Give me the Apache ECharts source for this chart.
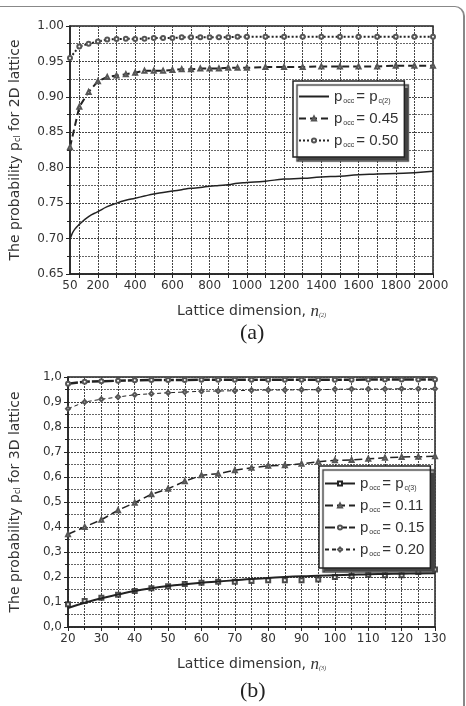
<!DOCTYPE html>
<html lang="en">
<head>
    <meta http-equiv="Content-Type" content="text/html; charset=utf-8"/>
    <title>Lattice probability</title>
    <script src="https://cdn.jsdelivr.net/npm/echarts@6/dist/echarts.min.js"></script>
    <style type="text/css">
        html, body { margin:0; height:100%; background:#fff; }
        #wrap { position:relative; width:466px; height:706px; overflow:hidden; }
        #frame { position:absolute; left:-10px; top:6px; width:473px; height:720px;
                 border-top:1px solid #888; border-right:2px solid #888; border-top-right-radius:10px; }
        #main_1 { position:absolute; left:0; top:0; width:466px; height:706px; }
    </style>
</head>
<body>
<div id="wrap">
    <div id="frame"></div>
    <div id="main_1"></div>
</div>
<script>
    // ---- (a) 2D lattice ----
    var nA_curve = [50, 60, 75, 100, 150, 200, 250, 300, 350, 400, 450, 500, 550, 600, 650, 700, 750, 800, 850, 900, 950,
                    1000, 1100, 1200, 1300, 1400, 1500, 1600, 1700, 1800, 1900, 2000];
    var pc2 = [0.699, 0.706, 0.713, 0.720, 0.731, 0.738, 0.745, 0.750, 0.754, 0.757, 0.760, 0.763, 0.765, 0.767, 0.769, 0.771, 0.772, 0.774, 0.775, 0.776, 0.778,
               0.779, 0.781, 0.784, 0.785, 0.787, 0.788, 0.790, 0.791, 0.792, 0.793, 0.795];
    var nA = [50, 100, 150, 200, 250, 300, 350, 400, 450, 500, 550, 600, 650, 700, 750, 800, 850, 900, 950,
              1000, 1100, 1200, 1300, 1400, 1500, 1600, 1700, 1800, 1900, 2000];
    var p045 = [0.829, 0.886, 0.907, 0.922, 0.928, 0.930, 0.932, 0.934, 0.937, 0.937, 0.937, 0.938, 0.939, 0.939, 0.940, 0.940, 0.940, 0.941, 0.941,
                0.941, 0.942, 0.942, 0.942, 0.943, 0.943, 0.943, 0.943, 0.944, 0.944, 0.944];
    var p050 = [0.955, 0.971, 0.975, 0.978, 0.981, 0.9815, 0.982, 0.9817, 0.982, 0.983, 0.983, 0.983, 0.984, 0.984, 0.984, 0.984, 0.984, 0.984, 0.985,
                0.985, 0.985, 0.985, 0.985, 0.985, 0.985, 0.985, 0.985, 0.985, 0.985, 0.985];
    var tickA = [100, 200, 300, 400, 500, 600, 700, 800, 900, 1000, 1100, 1200, 1300, 1400, 1500, 1600, 1700, 1800, 1900, 2000];
    var labelA = [50, 200, 400, 600, 800, 1000, 1200, 1400, 1600, 1800, 2000];

    // ---- (b) 3D lattice ----
    var nB = [20, 25, 30, 35, 40, 45, 50, 55, 60, 65, 70, 75, 80, 85, 90, 95, 100, 105, 110, 115, 120, 125, 130];
    var pc3_fit = [0.076, 0.097, 0.115, 0.130, 0.144, 0.155, 0.164, 0.171, 0.177, 0.182, 0.187, 0.192, 0.196, 0.200, 0.203, 0.205, 0.207, 0.209, 0.211, 0.212, 0.213, 0.214, 0.215];
    var pc3_pts = [0.091, 0.104, 0.117, 0.129, 0.144, 0.155, 0.163, 0.172, 0.177, 0.181, 0.181, 0.184, 0.187, 0.187, 0.187, 0.190, 0.200, 0.204, 0.209, 0.207, 0.207, 0.220, 0.230];
    var p011 = [0.371, 0.400, 0.429, 0.467, 0.497, 0.531, 0.553, 0.583, 0.607, 0.613, 0.627, 0.637, 0.645, 0.647, 0.653, 0.661, 0.667, 0.668, 0.673, 0.677, 0.680, 0.681, 0.683];
    var p015 = [0.973, 0.981, 0.983, 0.985, 0.987, 0.988, 0.988, 0.988, 0.989, 0.989, 0.989, 0.989, 0.989, 0.989, 0.989, 0.989, 0.989, 0.989, 0.990, 0.990, 0.990, 0.990, 0.990];
    var p020 = [0.873, 0.900, 0.911, 0.920, 0.929, 0.933, 0.937, 0.940, 0.943, 0.944, 0.945, 0.947, 0.948, 0.948, 0.949, 0.949, 0.951, 0.952, 0.952, 0.952, 0.953, 0.953, 0.953];

    function pairs(xs, ys) {
        var out = [];
        for (var i = 0; i < xs.length; i++) out.push([xs[i], ys[i]]);
        return out;
    }

    var ink = '#222';
    var txt = '#333';
    var gridCol = '#444';
    var font = 'DejaVu Sans';
    var lineIcon = 'path://M0,0 L30,0 L30,2 L0,2 Z';

    var subRich = {
        a: {fontFamily: 'Liberation Sans', fontSize: 15, color: txt},
        s: {fontFamily: 'Liberation Sans', fontSize: 7, color: txt, padding: [10, 2, 0, 1]}
    };

    function yAxisOpt(idx, min, max, step, fmt, name, gap) {
        return {
            type: 'value', gridIndex: idx, min: min, max: max, interval: step,
            name: name, nameLocation: 'middle', nameGap: gap,
            nameTextStyle: {fontFamily: font, fontSize: 14, color: txt,
                rich: {s: {fontFamily: font, fontSize: 8, color: txt, padding: [6, 0, 0, 0]}}},
            axisLine: {show: true, lineStyle: {color: ink, width: 1.5}},
            axisTick: {show: true, inside: false, length: 4, lineStyle: {color: ink}},
            minorTick: {show: true, splitNumber: 2, length: 3, lineStyle: {color: ink}},
            axisLabel: {fontFamily: font, fontSize: 12, color: txt, margin: 6, formatter: fmt},
            splitLine: {show: true, lineStyle: {color: gridCol, type: [2, 1], width: 1}},
            minorSplitLine: {show: true, lineStyle: {color: '#666', type: [2, 1], width: 1}}
        };
    }

    var myChart = echarts.init(document.getElementById('main_1'));

    var option = {
        animation: false,
        backgroundColor: 'transparent',
        grid: [
            {left: 70, right: 33, top: 26, height: 248, show: true, borderColor: ink, borderWidth: 1.5},
            {left: 68, right: 31, top: 377, height: 250, show: true, borderColor: ink, borderWidth: 1.5}
        ],
        xAxis: [
            {
                type: 'value', gridIndex: 0, min: 50, max: 2000,
                name: 'Lattice dimension, {n|n}{s|(2)}', nameLocation: 'middle', nameGap: 29,
                nameTextStyle: {fontFamily: font, fontSize: 14, color: txt,
                    rich: {n: {fontFamily: 'Liberation Serif', fontStyle: 'italic', fontSize: 17, color: txt},
                           s: {fontFamily: 'Liberation Serif', fontStyle: 'italic', fontSize: 6, color: txt, padding: [8, 0, 0, 0]}}},
                axisLine: {show: true, lineStyle: {color: ink, width: 1.5}},
                axisTick: {show: true, length: 4, lineStyle: {color: ink}, customValues: tickA},
                axisLabel: {fontFamily: font, fontSize: 12, color: txt, margin: 6, customValues: labelA,
                    formatter: function (v) { return String(v); }},
                splitLine: {show: true, lineStyle: {color: gridCol, type: [2, 1], width: 1}}
            },
            {
                type: 'value', gridIndex: 1, min: 20, max: 130, interval: 10,
                name: 'Lattice dimension, {n|n}{s|(3)}', nameLocation: 'middle', nameGap: 29,
                nameTextStyle: {fontFamily: font, fontSize: 14, color: txt,
                    rich: {n: {fontFamily: 'Liberation Serif', fontStyle: 'italic', fontSize: 17, color: txt},
                           s: {fontFamily: 'Liberation Serif', fontStyle: 'italic', fontSize: 6, color: txt, padding: [8, 0, 0, 0]}}},
                axisLine: {show: true, lineStyle: {color: ink, width: 1.5}},
                axisTick: {show: true, length: 4, lineStyle: {color: ink}},
                minorTick: {show: true, splitNumber: 2, length: 3, lineStyle: {color: ink}},
                axisLabel: {fontFamily: font, fontSize: 12, color: txt, margin: 6},
                splitLine: {show: true, lineStyle: {color: gridCol, type: [2, 1], width: 1}},
                minorSplitLine: {show: true, lineStyle: {color: gridCol, type: [2, 1], width: 1}}
            }
        ],
        yAxis: [
            yAxisOpt(0, 0.65, 1.0, 0.05, function (v) { return v.toFixed(2); },
                'The probability p{s|cl} for 2D lattice', 48),
            yAxisOpt(1, 0, 1.0, 0.1, function (v) { return v.toFixed(1).replace('.', ','); },
                'The probability p{s|cl} for 3D lattice', 46)
        ],
        legend: [
            {
                orient: 'vertical', left: 293, top: 81,
                padding: [8, 6, 8, 5], itemGap: 6, itemWidth: 30, itemHeight: 5,
                backgroundColor: '#fff', borderColor: ink, borderWidth: 1.5,
                shadowColor: '#444', shadowBlur: 1, shadowOffsetX: 4, shadowOffsetY: 4,
                data: [{name: 'pc2', icon: lineIcon}, 'a045', 'a050'],
                formatter: function (name) {
                    return {
                        pc2: '{a|p}{s|occ}{a|= p}{s|c(2)}',
                        a045: '{a|p}{s|occ}{a|= 0.45}',
                        a050: '{a|p}{s|occ}{a|= 0.50}'
                    }[name];
                },
                textStyle: {rich: subRich}
            },
            {
                orient: 'vertical', left: 319, top: 466,
                padding: [10, 6, 10, 5], itemGap: 6, itemWidth: 30, itemHeight: 5,
                backgroundColor: '#fff', borderColor: ink, borderWidth: 1.5,
                shadowColor: '#444', shadowBlur: 1, shadowOffsetX: 4, shadowOffsetY: 4,
                data: ['pc3', 'b011', 'b015', 'b020'],
                formatter: function (name) {
                    return {
                        pc3: '{a|p}{s|occ}{a|= p}{s|c(3)}',
                        b011: '{a|p}{s|occ}{a|= 0.11}',
                        b015: '{a|p}{s|occ}{a|= 0.15}',
                        b020: '{a|p}{s|occ}{a|= 0.20}'
                    }[name];
                },
                textStyle: {rich: subRich}
            }
        ],
        graphic: [
            {type: 'text', left: 240, top: 322, style: {text: '(a)', font: '22px "Liberation Serif"', fill: '#222'}},
            {type: 'text', left: 240, top: 680, style: {text: '(b)', font: '22px "Liberation Serif"', fill: '#222'}}
        ],
        series: [
            {
                name: 'pc2', type: 'line', xAxisIndex: 0, yAxisIndex: 0, smooth: true,
                symbol: 'none', data: pairs(nA_curve, pc2),
                lineStyle: {color: ink, width: 1.5}, itemStyle: {color: ink}
            },
            {
                name: 'a045', type: 'line', xAxisIndex: 0, yAxisIndex: 0,
                symbol: 'emptyTriangle', symbolSize: 4, data: pairs(nA, p045),
                lineStyle: {color: ink, width: 2, type: [7, 4]}, itemStyle: {color: '#555', borderWidth: 1}
            },
            {
                name: 'a050', type: 'line', xAxisIndex: 0, yAxisIndex: 0,
                symbol: 'emptyCircle', symbolSize: 4, data: pairs(nA, p050),
                lineStyle: {color: ink, width: 2, type: [2, 2]}, itemStyle: {color: '#555', borderWidth: 1}
            },
            {
                name: 'pc3', type: 'line', xAxisIndex: 1, yAxisIndex: 1, smooth: true,
                symbol: 'emptyRect', symbolSize: 4, showSymbol: false, data: pairs(nB, pc3_fit),
                lineStyle: {color: ink, width: 2}, itemStyle: {color: ink, borderWidth: 1}
            },
            {
                name: 'pc3', type: 'scatter', xAxisIndex: 1, yAxisIndex: 1,
                symbol: 'emptyRect', symbolSize: 4, data: pairs(nB, pc3_pts),
                itemStyle: {color: ink, borderWidth: 1}
            },
            {
                name: 'b011', type: 'line', xAxisIndex: 1, yAxisIndex: 1,
                symbol: 'emptyTriangle', symbolSize: 4, data: pairs(nB, p011),
                lineStyle: {color: ink, width: 1.5, type: [8, 4]}, itemStyle: {color: '#555', borderWidth: 1}
            },
            {
                name: 'b015', type: 'line', xAxisIndex: 1, yAxisIndex: 1,
                symbol: 'emptyCircle', symbolSize: 4, data: pairs(nB, p015),
                lineStyle: {color: ink, width: 2.5, type: [10, 2]}, itemStyle: {color: '#555', borderWidth: 1}
            },
            {
                name: 'b020', type: 'line', xAxisIndex: 1, yAxisIndex: 1,
                symbol: 'emptyDiamond', symbolSize: 4, data: pairs(nB, p020),
                lineStyle: {color: ink, width: 1, type: [4, 3]}, itemStyle: {color: '#555', borderWidth: 1}
            }
        ]
    };

    myChart.setOption(option);
</script>
</body>
</html>
